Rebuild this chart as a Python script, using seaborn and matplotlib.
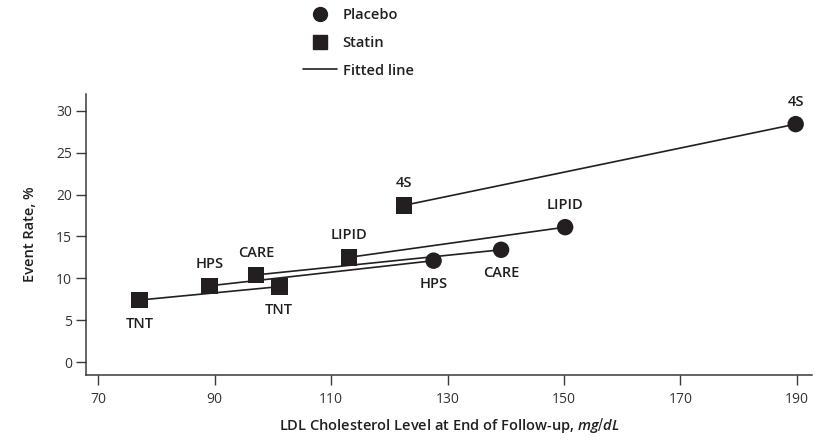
import matplotlib
matplotlib.use("Agg")
import matplotlib.pyplot as plt
from matplotlib.lines import Line2D
import seaborn as sns
import pandas as pd

# ---- data ----
point_trial = ["TNT", "TNT", "HPS", "HPS", "CARE", "CARE", "LIPID", "LIPID", "4S", "4S"]
point_arm = ["Statin", "Statin", "Statin", "Placebo", "Statin", "Placebo",
             "Statin", "Placebo", "Statin", "Placebo"]
ldl = [77.1, 101.1, 89.1, 127.6, 97.1, 139.2, 113.1, 150.2, 122.5, 189.8]
event_rate = [7.4, 9.0, 9.1, 12.1, 10.4, 13.4, 12.5, 16.1, 18.7, 28.4]
x_ticks = [70, 90, 110, 130, 150, 170, 190]
y_ticks = [0, 5, 10, 15, 20, 25, 30]

df = pd.DataFrame({"trial": point_trial, "arm": point_arm,
                   "ldl": ldl, "rate": event_rate})

# label placement (style): above or below each point
label_above = [False, False, True, False, True, False, True, True, True, True]

sns.set_theme(style="ticks")
plt.rcParams["font.family"] = ["Open Sans", "DejaVu Sans"]
plt.rcParams["mathtext.fontset"] = "custom"
plt.rcParams["mathtext.it"] = "Open Sans:italic:semibold"

ink = "#231f20"
axis_col = "#3a3a3a"

fig = plt.figure(figsize=(8.24, 4.4), dpi=100)
ax = fig.add_axes([0.1044, 0.1477, 0.881, 0.6387])

sns.lineplot(data=df, x="ldl", y="rate", units="trial", estimator=None,
             color=ink, lw=1.2, ax=ax, legend=False)
sns.scatterplot(data=df, x="ldl", y="rate", style="arm",
                markers={"Placebo": "o", "Statin": "s"}, color=ink,
                s=140, edgecolor=ink, linewidth=0, ax=ax, legend=False, zorder=3)

for (tr, x, y, up) in zip(point_trial, ldl, event_rate, label_above):
    ax.annotate(tr, (x, y), xytext=(0, 11 if up else -12), textcoords="offset points",
                ha="center", va="bottom" if up else "top",
                fontsize=10.5, fontweight="semibold", color=ink)

ax.set_xlim(67.9, 192.6)
ax.set_ylim(-1.55, 32.0)
ax.set_xticks(x_ticks)
ax.set_yticks(y_ticks)
ax.tick_params(axis="both", direction="out", length=7, width=1.0, color=axis_col,
               labelsize=10, labelcolor="#333333", pad=3)
ax.tick_params(axis="x", pad=5)
for side in ["top", "right"]:
    ax.spines[side].set_visible(False)
for side in ["left", "bottom"]:
    ax.spines[side].set_color(axis_col)
    ax.spines[side].set_linewidth(1.1)

ax.set_xlabel("LDL Cholesterol Level at End of Follow-up, $mg/dL$",
              fontsize=10.5, fontweight="semibold", color=ink, labelpad=7)
ax.set_ylabel("Event Rate, %", fontsize=10.5, fontweight="semibold", color=ink,
              labelpad=14)

handles = [
    Line2D([], [], marker="o", color=ink, ls="none", markersize=10),
    Line2D([], [], marker="s", color=ink, ls="none", markersize=9.5),
    Line2D([], [], color=ink, lw=1.2),
]
leg = fig.legend(handles, ["Placebo", "Statin", "Fitted line"], loc="upper left",
                 bbox_to_anchor=(0.352, 1.012), frameon=False, fontsize=10.5,
                 handlelength=2.3, labelspacing=0.95, handletextpad=0.4)
for t in leg.get_texts():
    t.set_fontweight("semibold")
    t.set_color(ink)

fig.savefig("out.png", dpi=100)
